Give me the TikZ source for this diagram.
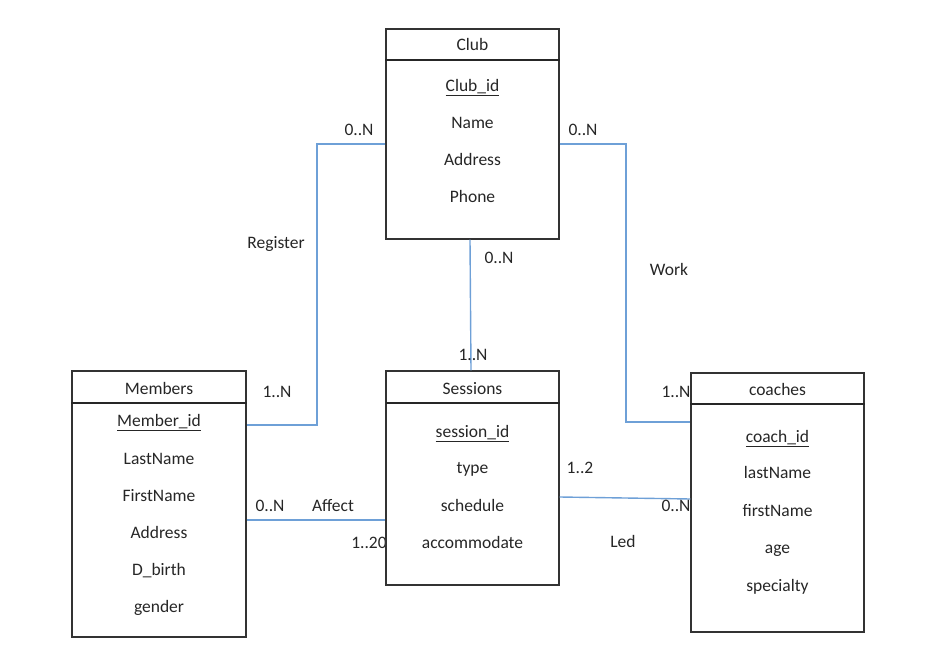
\documentclass[tikz,border=0pt]{standalone}
\usepackage{fontspec}
\setmainfont{Carlito}
\begin{document}
\begin{tikzpicture}[x=1pt,y=-1pt,
  entbox/.style={draw=black!80, line width=1.3pt, rectangle, inner sep=0pt},
  divider/.style={draw=black!85, line width=2.4pt},
  attr/.style={font=\fontsize{17.5}{20}\selectfont, text=black!85, inner sep=0pt, text height=11.5pt, text depth=0pt, anchor=center},
  lbl/.style={font=\fontsize{17.5}{20}\selectfont, text=black!85, inner sep=0pt, text height=11.5pt, text depth=0pt, anchor=center},
  conn/.style={draw={rgb,255:red,110;green,160;blue,215}, line width=1.4pt}]
\useasboundingbox (0,0) rectangle (951,655);
% boxes
\node[entbox, minimum width=173pt, minimum height=210pt] (club) at (472.5,134) {};
\node[entbox, minimum width=174pt, minimum height=266pt] (members) at (159,504) {};
\node[entbox, minimum width=173pt, minimum height=214pt] (sessions) at (472.5,478) {};
\node[entbox, minimum width=173pt, minimum height=259pt] (coaches) at (777.5,502.5) {};
% dividers
\draw[divider] (club.west |- 0,60) -- (club.east |- 0,60);
\draw[divider] (members.west |- 0,403) -- (members.east |- 0,403);
\draw[divider] (sessions.west |- 0,403) -- (sessions.east |- 0,403);
\draw[divider] (coaches.west |- 0,404) -- (coaches.east |- 0,404);
% Club
\node[attr] (clubT) at (472.5,45) {Club};
\node[attr] (clubA1) at (472.5,86) {\underline{Club\_id}};
\node[attr] (clubA2) at (472.5,123) {Name};
\node[attr] (clubA3) at (472.5,160) {Address};
\node[attr] (clubA4) at (472.5,197) {Phone};
% Members
\node[attr] (memT) at (159,389) {Members};
\node[attr] (memA1) at (159,421) {\underline{Member\_id}};
\node[attr] (memA2) at (159,459) {LastName};
\node[attr] (memA3) at (159,496) {FirstName};
\node[attr] (memA4) at (159,533) {Address};
\node[attr] (memA5) at (159,570) {D\_birth};
\node[attr] (memA6) at (159,607) {gender};
% Sessions
\node[attr] (sesT) at (472.5,389) {Sessions};
\node[attr] (sesA1) at (472.5,432) {\underline{session\_id}};
\node[attr] (sesA2) at (472.5,468) {type};
\node[attr] (sesA3) at (472.5,506) {schedule};
\node[attr] (sesA4) at (472.5,543) {accommodate};
% coaches
\node[attr] (coaT) at (777.5,390) {coaches};
\node[attr] (coaA1) at (777.5,437) {\underline{coach\_id}};
\node[attr] (coaA2) at (777.5,473) {lastName};
\node[attr] (coaA3) at (777.5,511) {firstName};
\node[attr] (coaA4) at (777.5,548) {age};
\node[attr] (coaA5) at (777.5,586) {specialty};
% connectors
\draw[conn] (club.west |- 0,144) -| (317,425) -- (members.east |- 0,425);
\draw[conn] (club.east |- 0,144) -| (626,422) -- (coaches.west |- 0,422);
\draw[conn] (club.south -| 470,0) -- (sessions.north -| 471,0);
\draw[conn] (members.east |- 0,520) -- (sessions.west |- 0,520);
\draw[conn] (sessions.east |- 0,497) -- (coaches.west |- 0,499);
% labels
\node[lbl] (l1) at (359,130) {0..N};
\node[lbl] (l2) at (583,130) {0..N};
\node[lbl] (l3) at (276,243) {Register};
\node[lbl] (l4) at (669,270) {Work};
\node[lbl] (l5) at (499,258) {0..N};
\node[lbl] (l6) at (473,355) {1..N};
\node[lbl] (l7) at (277,392) {1..N};
\node[lbl] (l8) at (676,392) {1..N};
\node[lbl] (l9) at (270,506) {0..N};
\node[lbl] (l10) at (333,506) {Affect};
\node[lbl] (l11) at (369,543) {1..20};
\node[lbl] (l12) at (580,468) {1..2};
\node[lbl] (l13) at (676,506) {0..N};
\node[lbl] (l14) at (623,542) {Led};
% redraw sessions left edge over label
\draw[draw=black!80, line width=1.3pt] (sessions.north west) -- (sessions.south west);
\end{tikzpicture}
\end{document}
